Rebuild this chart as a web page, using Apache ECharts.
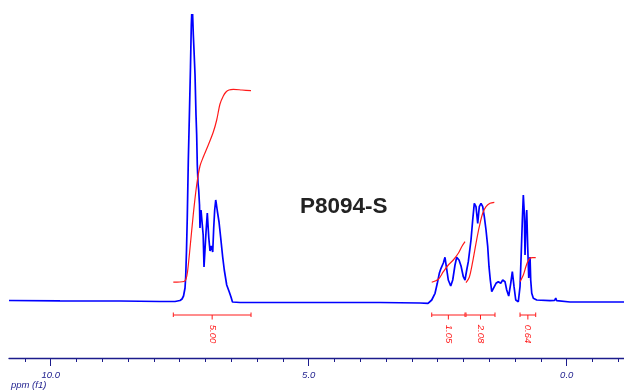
<!DOCTYPE html>
<html><head><meta charset="utf-8">
<script src="https://cdn.jsdelivr.net/npm/echarts@6/dist/echarts.min.js"></script>
<style>html,body{margin:0;padding:0;background:#fff}#c{width:624px;height:392px}</style>
</head><body><div id="c"></div>
<script>
// ---- Spectrum (ppm, intensity in arbitrary units) ----
const spectrumPpm = [10.808, 9.820, 8.657, 7.882, 7.591, 7.494, 7.455, 7.426, 7.397, 7.384, 7.368, 7.353, 7.333, 7.310, 7.291, 7.281, 7.275, 7.267, 7.258, 7.250, 7.236, 7.223, 7.203, 7.184, 7.171, 7.159, 7.145, 7.132, 7.116, 7.107, 7.097, 7.087, 7.062, 7.045, 7.029, 7.010, 6.990, 6.977, 6.965, 6.948, 6.936, 6.913, 6.888, 6.860, 6.841, 6.822, 6.802, 6.787, 6.771, 6.738, 6.705, 6.667, 6.636, 6.589, 6.539, 6.506, 6.477, 6.331, 5.169, 3.618, 2.843, 2.688, 2.616, 2.552, 2.508, 2.469, 2.436, 2.411, 2.391, 2.359, 2.333, 2.295, 2.248, 2.209, 2.165, 2.132, 2.087, 2.048, 2.004, 1.971, 1.938, 1.907, 1.888, 1.855, 1.822, 1.791, 1.758, 1.725, 1.694, 1.661, 1.628, 1.597, 1.564, 1.531, 1.506, 1.481, 1.453, 1.422, 1.370, 1.326, 1.279, 1.240, 1.196, 1.163, 1.124, 1.085, 1.054, 1.021, 0.988, 0.938, 0.905, 0.886, 0.860, 0.841, 0.822, 0.808, 0.795, 0.775, 0.756, 0.736, 0.711, 0.698, 0.678, 0.647, 0.581, 0.324, 0.236, 0.213, 0.194, -0.064, -0.645, -1.110];
const spectrumIntensity = [-0.5, -0.8, -1, -1.5, -1.5, -0.5, 1, 4, 12, 23, 50, 83, 140, 190, 233, 260, 275, 286, 280, 286, 265, 250, 225, 185, 165, 135, 117, 110, 95, 72, 85, 90, 90, 65, 33, 50, 68, 78, 87, 72, 62, 49, 54, 48, 72, 90, 100, 95, 89, 78, 62, 43, 30, 15, 8, 3, -2, -2.5, -2.5, -2.5, -3, -3.3, 0, 6.7, 16.7, 26.7, 31.7, 33, 37, 42.7, 33.3, 20, 14, 20, 35, 42.7, 40, 34, 23.3, 20, 30, 38.3, 40, 60, 80, 96.7, 93.3, 76.7, 93.3, 96.7, 93.3, 83.3, 70, 53.3, 33.3, 20, 8.3, 10, 16.7, 18.3, 16.7, 20, 18.3, 10, 4, 16.7, 28.3, 13.3, 0, -1.7, 13.3, 40, 80, 105, 87, 45, 70, 90, 53, 22, 43, 20, 6.7, 1.7, 0, -0.7, -0.5, 2, -0.7, -2, -2, -2];

// ---- Integral curves [ppm, value] ----
const integral1 = [[7.624, 17.8], [7.417, 18.5], [7.378, 21], [7.349, 28], [7.300, 52], [7.236, 86], [7.171, 115], [7.107, 134], [7.043, 143], [6.946, 155], [6.849, 168], [6.783, 180], [6.719, 196], [6.655, 204], [6.603, 208], [6.545, 210], [6.461, 210.7], [6.293, 210], [6.118, 209.3]];
const integral2 = [[2.616, 17.7], [2.488, 20.7], [2.391, 28.3], [2.295, 35], [2.198, 40], [2.101, 46.7], [2.035, 53.3], [1.971, 58.3]];
const integral3 = [[1.952, 17.3], [1.888, 22.7], [1.822, 38.3], [1.758, 56.7], [1.694, 73.3], [1.628, 86.7], [1.564, 93.3], [1.486, 96.7], [1.403, 97.7]];
const integral4 = [[0.905, 18.3], [0.841, 25], [0.795, 32.7], [0.756, 38.3], [0.711, 41.7], [0.667, 42.3], [0.601, 42.3]];

// ---- Integration regions and values ----
const regionStart = [7.624, 2.616, 1.952, 0.905];
const regionEnd = [6.118, 1.971, 1.390, 0.601];
const integralValues = [5.00, 1.05, 2.08, 0.64];

// ---- Axis ticks ----
const majorTicks = [10, 5, 0];
const minorTicks = [10.5, 10, 9.5, 9, 8.5, 8, 7.5, 7, 6.5, 6, 5.5, 5, 4.5, 4, 3.5, 3, 2.5, 2, 1.5, 1, 0.5, 0, -0.5, -1];
const axisName = 'ppm (f1)';
const sampleName = 'P8094-S';

const X_MIN = -1.110, X_MAX = 10.808;
const AXIS_COLOR = '#1c1c8c';
const RED = '#ff1a1a';

const chart = echarts.init(document.getElementById('c'), null, {renderer: 'canvas'});

const bracketData = regionStart.map((s, i) => [s, regionEnd[i], integralValues[i]]);

const xBase = {type: 'value', min: X_MIN, max: X_MAX, inverse: true, position: 'bottom', splitLine: {show: false}};

chart.setOption({
  animation: false,
  backgroundColor: '#fff',
  title: [
    {text: sampleName, left: 300, top: 196, padding: 0,
     textStyle: {fontFamily: 'Liberation Sans', fontWeight: 'bold', fontSize: 22.5, color: '#222', lineHeight: 22}},
    {text: axisName, left: 11, top: 380, padding: 0,
     textStyle: {fontFamily: 'Liberation Sans', fontStyle: 'italic', fontWeight: 'normal', fontSize: 9.5, color: AXIS_COLOR, lineHeight: 10}}
  ],
  grid: {left: 9, right: 0, top: 0, bottom: 34, containLabel: false},
  xAxis: [
    Object.assign({}, xBase, {
      axisLine: {show: true, onZero: false, lineStyle: {color: AXIS_COLOR, width: 1.3}},
      axisTick: {show: true, length: 4, lineStyle: {color: AXIS_COLOR, width: 1}, customValues: minorTicks},
      axisLabel: {show: false}
    }),
    Object.assign({}, xBase, {
      axisLine: {show: false, onZero: false},
      axisTick: {show: true, length: 8, lineStyle: {color: AXIS_COLOR, width: 1}, customValues: majorTicks},
      axisLabel: {show: true, customValues: majorTicks, margin: 12, formatter: v => Number(v).toFixed(1),
        fontFamily: 'Liberation Sans', fontStyle: 'italic', fontSize: 9.5, color: AXIS_COLOR}
    })
  ],
  yAxis: {type: 'value', min: -58, max: 300, show: false},
  series: [
    {type: 'line', data: spectrumPpm.map((p, i) => [p, spectrumIntensity[i]]), showSymbol: false,
     lineStyle: {color: '#0000ff', width: 1.7}, z: 3},
    ...[integral1, integral2, integral3, integral4].map(d => ({
      type: 'line', data: d, showSymbol: false, smooth: 0.3,
      lineStyle: {color: RED, width: 1.2}, z: 4
    })),
    {
      type: 'custom', data: bracketData, z: 5,
      renderItem: function (params, api) {
        const a = api.value(0), b = api.value(1), val = api.value(2);
        const mid = (a + b) / 2;
        const level = -15, hookTop = -12.5, hookBot = -17, tickBot = -19.5, labelY = -34;
        const L = api.coord([a, level]), R = api.coord([b, level]);
        const Lt = api.coord([a, hookTop]), Lb = api.coord([a, hookBot]);
        const Rt = api.coord([b, hookTop]), Rb = api.coord([b, hookBot]);
        const M = api.coord([mid, level]), Mb = api.coord([mid, tickBot]);
        const T = api.coord([mid, labelY]);
        const ls = {stroke: RED, lineWidth: 1};
        return {
          type: 'group',
          children: [
            {type: 'line', shape: {x1: L[0], y1: L[1], x2: R[0], y2: R[1]}, style: ls},
            {type: 'line', shape: {x1: Lt[0], y1: Lt[1], x2: Lb[0], y2: Lb[1]}, style: ls},
            {type: 'line', shape: {x1: Rt[0], y1: Rt[1], x2: Rb[0], y2: Rb[1]}, style: ls},
            {type: 'line', shape: {x1: M[0], y1: M[1], x2: Mb[0], y2: Mb[1]}, style: ls},
            {type: 'text', x: T[0], y: T[1], rotation: -Math.PI / 2,
             style: {text: Number(val).toFixed(2), fill: RED, font: 'italic 9.5px "Liberation Sans"', align: 'center', verticalAlign: 'middle'}}
          ]
        };
      }
    }
  ]
});
</script></body></html>
